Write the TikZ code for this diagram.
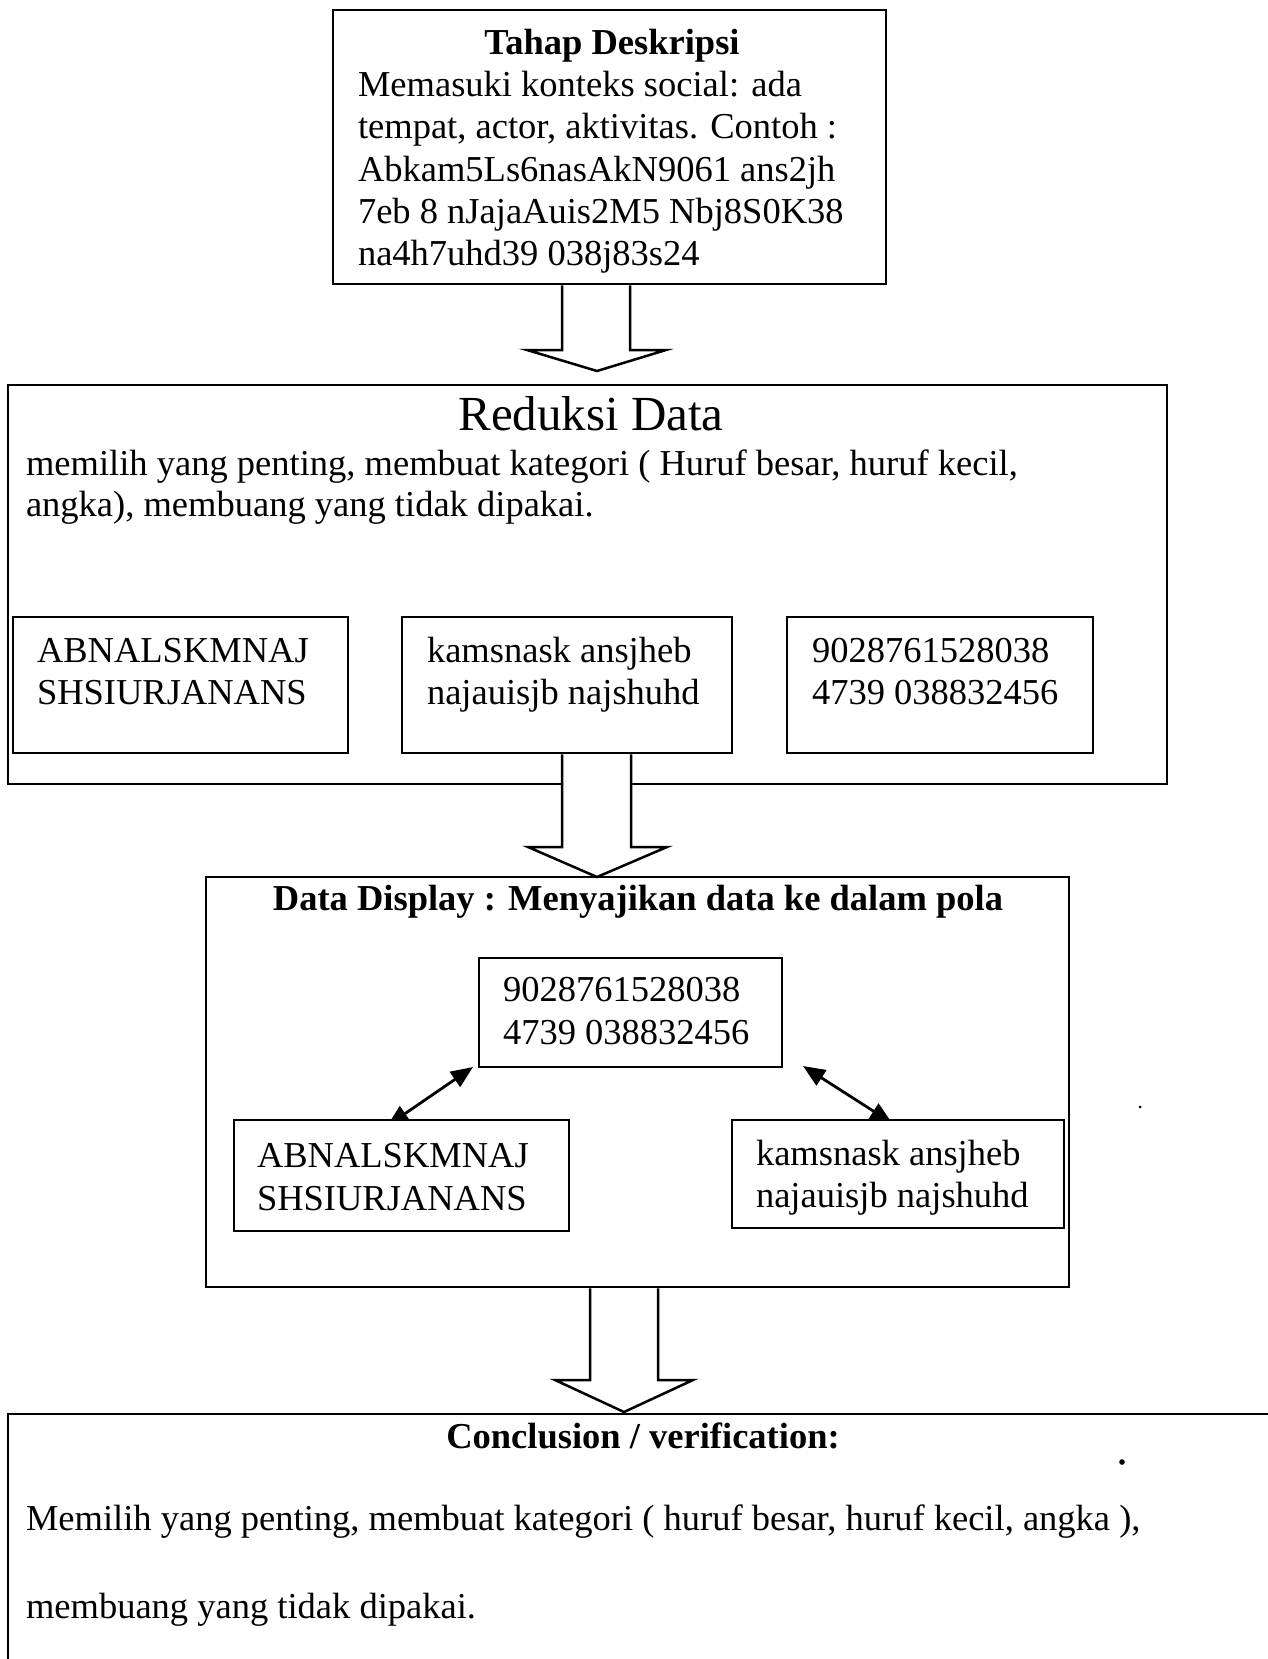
\documentclass[tikz,border=0pt]{standalone}
\usepackage{fontspec}
\setmainfont{Liberation Serif}
\usetikzlibrary{arrows.meta,calc}
\pgfdeclarelayer{bg}
\pgfdeclarelayer{back}
\pgfsetlayers{back,bg,main}
\newcommand\fs{\fontsize{36.5}{42}\selectfont}
\begin{document}
\begin{tikzpicture}[x=1pt,y=-1pt,
  box/.style={draw,line width=2.5pt,fill=white,inner sep=0pt,outer sep=0pt,anchor=north west},
  txt/.style={font=\fs,inner sep=0pt,outer sep=0pt,anchor=base west},
  ctxt/.style={font=\fs\bfseries,inner sep=0pt,outer sep=0pt,anchor=base},
  barrow/.style={draw,fill=white,line width=2.5pt,line join=miter},
  dbl/.style={line width=2.8pt,{Triangle[length=22pt,width=18pt]}-{Triangle[length=22pt,width=18pt]}}]
\begin{pgfonlayer}{back}
\fill[white] (0,0) rectangle (1268,1659);
\end{pgfonlayer}
\useasboundingbox (0,0) rectangle (1268,1659);

% x positions of block-arrow shafts
\coordinate (a1l) at (562,0);
\coordinate (a1r) at (630,0);
\coordinate (a2l) at (562,0);
\coordinate (a2r) at (631,0);
\coordinate (a3l) at (590,0);
\coordinate (a3r) at (658,0);

% ---- Tahap Deskripsi
\node[box,minimum width=553pt,minimum height=274pt] (top) at (333,10) {};
\node[ctxt] (t0) at (612,55) {Tahap Deskripsi};
\node[txt] (t1) at (358,97) {Memasuki konteks social: ada};
\node[txt] (t2) at (358,139) {tempat, actor, aktivitas. Contoh :};
\node[txt] (t3) at (358,181) {Abkam5Ls6nasAkN9061 ans2jh};
\node[txt] (t4) at (358,223) {7eb 8 nJajaAuis2M5 Nbj8S0K38};
\node[txt] (t5) at (358,265) {na4h7uhd39 038j83s24};

% ---- Reduksi Data
\node[box,minimum width=1159pt,minimum height=399pt] (red) at (8,385) {};
\node[font=\fontsize{49}{56}\selectfont,inner sep=0pt,anchor=base] (redt) at (591,430) {Reduksi Data};
\node[txt] (r1) at (26,475) {memilih yang penting, membuat kategori ( Huruf besar, huruf kecil,};
\node[txt] (r2) at (26,516) {angka), membuang yang tidak dipakai.};

\draw[barrow] ($(top.south -| a1l)+(0,1.3)$) -- (562,350) -- (527,350) -- (597,371) -- (666,350) -- (630,350) -- ($(top.south -| a1r)+(0,1.3)$);

\node[box,minimum width=335pt,minimum height=136pt] (b1) at (13,617) {};
\node[box,minimum width=330pt,minimum height=136pt] (b2) at (402,617) {};
\node[box,minimum width=306pt,minimum height=136pt] (b3) at (787,617) {};
\node[txt] (b1a) at (37,662) {ABNALSKMNAJ};
\node[txt] (b1b) at (37,704) {SHSIURJANANS};
\node[txt] (b2a) at (427,662) {kamsnask ansjheb};
\node[txt] (b2b) at (427,704) {najauisjb najshuhd};
\node[txt] (b3a) at (812,662) {9028761528038};
\node[txt] (b3b) at (812,704) {4739 038832456};

\draw[barrow] ($(b2.south -| a2l)+(0,1.3)$) -- (562,847) -- (528,847) -- (597,877) -- (667,847) -- (631,847) -- ($(b2.south -| a2r)+(0,1.3)$);

% ---- Data Display
\node[box,fill=none,minimum width=863pt,minimum height=410pt] (disp) at (206,877) {};
\node[ctxt] (dt) at (638,910) {Data Display : Menyajikan data ke dalam pola};
\node[box,minimum width=303pt,minimum height=109pt] (cbox) at (479,958) {};
\node[txt] (ca) at (503,1001) {9028761528038};
\node[txt] (cb) at (503,1044) {4739 038832456};
\node[box,minimum width=335pt,minimum height=111pt] (lbox) at (234,1120) {};
\node[txt] (la) at (257,1167) {ABNALSKMNAJ};
\node[txt] (lb) at (257,1210) {SHSIURJANANS};
\node[box,minimum width=332pt,minimum height=108pt] (rbox) at (732,1120) {};
\node[txt] (ra) at (756,1165) {kamsnask ansjheb};
\node[txt] (rb) at (756,1207) {najauisjb najshuhd};

\begin{pgfonlayer}{bg}
\draw[dbl] ([shift={(-6,0)}]cbox.south west) -- ([shift={(-14.5,6)}]lbox.north);
\draw[dbl] ([shift={(21,-1)}]cbox.south east) -- ([shift={(-6,3)}]rbox.north);
\end{pgfonlayer}

% ---- Conclusion
\node[box,minimum width=1300pt,minimum height=300pt] (conc) at (8,1414) {};
\draw[barrow] ($(disp.south -| a3l)+(0,1.3)$) -- (590,1380) -- (555,1380) -- (624,1412) -- (693,1380) -- (658,1380) -- ($(disp.south -| a3r)+(0,1.3)$);
\node[ctxt] (ct) at (643,1448) {Conclusion / verification:};
\node[txt] (c1) at (26,1530) {Memilih yang penting, membuat kategori ( huruf besar, huruf kecil, angka ),};
\node[txt] (c2) at (26,1618) {membuang yang tidak dipakai.};

\fill (1140,1107) circle[radius=1.5pt];
\fill (1122,1462) circle[radius=2.8pt];
\end{tikzpicture}
\end{document}
